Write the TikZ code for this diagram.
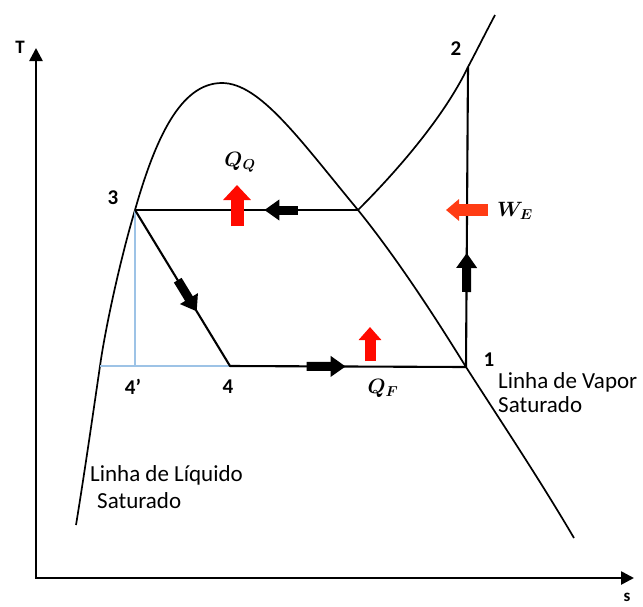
\documentclass[tikz,border=0pt]{standalone}
\usepackage{fontspec}
\setmainfont{Carlito}
\usetikzlibrary{arrows.meta}
\definecolor{auxblue}{RGB}{157,195,230}
\definecolor{qred}{RGB}{255,10,0}
\definecolor{wred}{RGB}{255,60,20}
\begin{document}
\begin{tikzpicture}[x=1pt,y=-1pt,
  curve/.style={line width=1.7pt, line join=round},
  cyc/.style={line width=2.1pt, line join=round},
  axisline/.style={line width=2.6pt, {Triangle[length=13pt,width=13pt]}-{Triangle[length=13pt,width=13pt]}},
  aux/.style={draw=auxblue, line width=1.1pt},
  blk/.style={line width=9pt, black, -{Triangle[length=15pt,width=20pt]}},
  redarr/.style={line width=13pt, qred, -{Triangle[length=15pt,width=27pt]}},
  wearr/.style={line width=12pt, wred, -{Triangle[length=13pt,width=21pt]}},
  lbl/.style={font=\fontsize{23}{27}\selectfont, anchor=base west, inner sep=0pt},
  num/.style={font=\bfseries\fontsize{21}{25}\selectfont, inner sep=0pt},
  qlbl/.style={font=\boldmath\fontsize{21}{25}\selectfont, inner sep=0pt}]
\useasboundingbox (0,0) rectangle (643,606);
% key points
\coordinate (O) at (36,578);
\coordinate (Ttop) at (36,48);
\coordinate (Send) at (634,578);
\coordinate (p1) at (466,367);
\coordinate (p2) at (468,67);
\coordinate (p3) at (135,210);
\coordinate (p4) at (230,366);
\coordinate (p4p) at (135,366);
\coordinate (pL) at (100,366);
\coordinate (pV) at (358,210);
\coordinate (top) at (222,83);
\coordinate (dL) at (76,525);
\coordinate (dR) at (574,538);
\coordinate (sh) at (495,15);
% axes
\draw[axisline] (Ttop) -- (O) -- (Send);
% saturation dome
\draw[curve] (dL) .. controls (85,470) and (95,400) .. (pL)
  .. controls (105,330) and (120,260) .. (p3)
  .. controls (155,140) and (180,83) .. (top)
  .. controls (260,83) and (300,140) .. (pV)
  .. controls (400,262) and (440,325) .. (p1)
  .. controls (500,420) and (540,480) .. (dR);
% superheated isobar
\draw[curve] (pV) .. controls (400,168) and (445,115) .. (p2)
  .. controls (477,50) and (486,32) .. (sh);
% auxiliary lines
\draw[aux] (p3) -- (p4p);
\draw[aux] (pL) -- (p4);
% cycle
\draw[cyc] (p3) -- (pV);
\draw[cyc] (p3) -- (p4) -- (p1) -- (p2);
% flow arrows on the cycle
\path (p4) -- (p1) coordinate[pos=0.325] (a1s) coordinate[pos=0.49] (a1e);
\path (pV) -- (p3) coordinate[pos=0.27] (a2s) coordinate[pos=0.42] (a2e);
\path (p1) -- (p2) coordinate[pos=0.25] (a3s) coordinate[pos=0.38] (a3e);
\path (p3) -- (p4) coordinate[pos=0.45] (a4s) coordinate[pos=0.65] (a4e);
\draw[blk] (a1s) -- (a1e);
\draw[blk] (a2s) -- (a2e);
\draw[blk] (a3s) -- (a3e);
\draw[blk] (a4s) -- (a4e);
% heat and work arrows
\coordinate (qqs) at (237,226);
\coordinate (qqe) at (237,185);
\coordinate (qfs) at (370,361);
\coordinate (qfe) at (370,327);
\coordinate (wes) at (488,210);
\coordinate (wee) at (446,210);
\draw[redarr] (qqs) -- (qqe);
\draw[redarr, line width=11pt, -{Triangle[length=13pt,width=22pt]}] (qfs) -- (qfe);
\draw[wearr] (wes) -- (wee);
% labels
\node[font=\bfseries\fontsize{19}{22}\selectfont, inner sep=0pt] (lT) at (20,47) {T};
\node[font=\bfseries\fontsize{17}{20}\selectfont, inner sep=0pt] (ls) at (627,597) {s};
\node[num] (l1) at (489,360) {1};
\node[num] (l2) at (456,49) {2};
\node[num] (l3) at (113,198) {3};
\node[num] (l4p) at (133,387) {4’};
\node[num] (l4) at (228,387) {4};
\node[qlbl] (lqq) at (240,162) {$Q_Q$};
\node[qlbl] (lwe) at (515,211) {$W_E$};
\node[qlbl] (lqf) at (383,388) {$Q_F$};
\node[lbl] (lv1) at (498,388) {Linha de Vapor};
\node[lbl] (lv2) at (498,412) {Saturado};
\node[lbl] (ll1) at (90,481) {Linha de Líquido};
\node[lbl] (ll2) at (97,508) {Saturado};
\end{tikzpicture}
\end{document}
